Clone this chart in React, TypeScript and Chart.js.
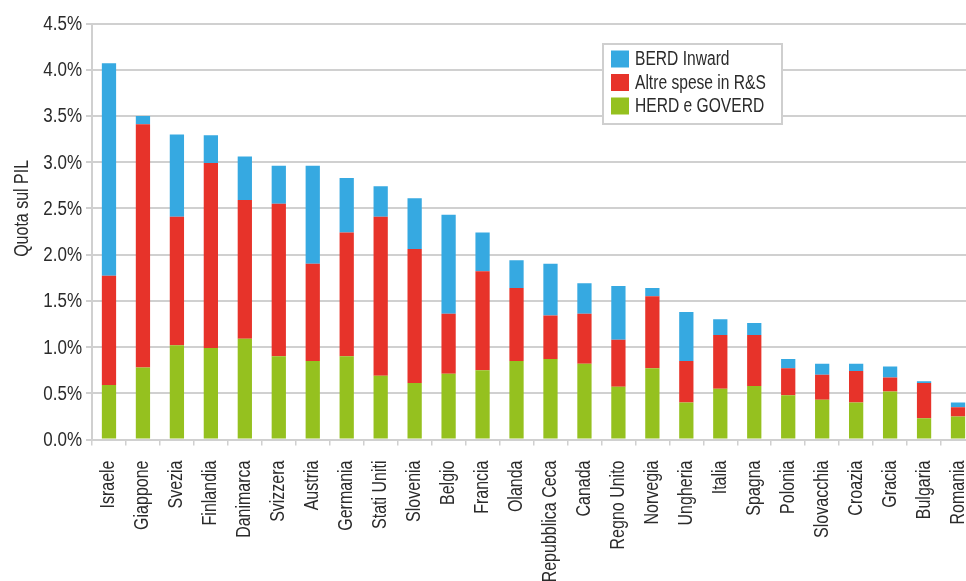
import React, { useEffect, useRef } from "react";
import { Chart, registerables } from "chart.js";

Chart.register(...registerables);

// Countries, ordered by total R&D spending as a share of GDP
const categories = [
  "Israele", "Giappone", "Svezia", "Finlandia", "Danimarca", "Svizzera", "Austria",
  "Germania", "Stati Uniti", "Slovenia", "Belgio", "Francia", "Olanda", "Repubblica Ceca",
  "Canada", "Regno Unito", "Norvegia", "Ungheria", "Italia", "Spagna", "Polonia",
  "Slovacchia", "Croazia", "Gracia", "Bulgaria", "Romania",
];

// Shares of GDP (%)
const herdGoverd = [
  0.59, 0.78, 1.02, 0.99, 1.09, 0.90, 0.85, 0.90, 0.69, 0.61, 0.71, 0.75, 0.85, 0.87,
  0.82, 0.57, 0.77, 0.40, 0.55, 0.58, 0.48, 0.43, 0.40, 0.52, 0.23, 0.25,
];
const altreSpese = [
  1.18, 2.63, 1.39, 2.00, 1.50, 1.65, 1.05, 1.34, 1.72, 1.45, 0.65, 1.07, 0.79, 0.47,
  0.54, 0.51, 0.78, 0.45, 0.58, 0.55, 0.29, 0.27, 0.34, 0.15, 0.38, 0.10,
];
const berdInward = [
  2.30, 0.09, 0.89, 0.30, 0.47, 0.41, 1.06, 0.59, 0.33, 0.55, 1.07, 0.42, 0.30, 0.56,
  0.33, 0.58, 0.09, 0.53, 0.17, 0.13, 0.10, 0.12, 0.08, 0.12, 0.02, 0.05,
];

const yTicks = [0, 0.5, 1, 1.5, 2, 2.5, 3, 3.5, 4, 4.5];
const yTitle = "Quota sul PIL";

const FONT = "'Liberation Sans', Arial, sans-serif";
const TEXT = "#2b2b2b";
const GRID = "#d0d0d0";

const fmtPct = (v: number) => `${v.toFixed(1)}%`;

// Condensed text: draws a sans-serif face squeezed horizontally along its baseline
function narrowText(
  ctx: CanvasRenderingContext2D,
  text: string,
  x: number,
  y: number,
  opts: { size: number; squeeze: number; align: CanvasTextAlign; rotate?: number }
) {
  ctx.save();
  ctx.translate(x, y);
  if (opts.rotate) ctx.rotate(opts.rotate);
  ctx.scale(opts.squeeze, 1);
  ctx.font = `${opts.size}px ${FONT}`;
  ctx.fillStyle = TEXT;
  ctx.textAlign = opts.align;
  ctx.textBaseline = "middle";
  ctx.fillText(text, 0, 0);
  ctx.restore();
}

// Axis labels and title in a condensed face
const axisText = {
  id: "axisText",
  afterDraw(chart: any) {
    const { ctx } = chart;
    const xScale = chart.scales.x;
    const yScale = chart.scales.y;
    // value labels, right-aligned just left of the tick marks
    yTicks.forEach((v) => {
      narrowText(ctx, fmtPct(v), yScale.right - 10, yScale.getPixelForValue(v) + 1, {
        size: 20,
        squeeze: 0.85,
        align: "right",
      });
    });
    // category labels, reading upward and hanging below the axis
    categories.forEach((c, i) => {
      narrowText(ctx, c, xScale.getPixelForValue(i), xScale.top + 21, {
        size: 20,
        squeeze: 0.8,
        align: "right",
        rotate: -Math.PI / 2,
      });
    });
    narrowText(ctx, yTitle, 22, yScale.getPixelForValue(2.5), {
      size: 20,
      squeeze: 0.8,
      align: "center",
      rotate: -Math.PI / 2,
    });
  },
};

// Boxed legend drawn inside the plot area, top item first
const boxLegend = {
  id: "boxLegend",
  afterDraw(chart: any) {
    const { ctx } = chart;
    const x = 603, y = 44, w = 179, h = 80;
    ctx.save();
    ctx.fillStyle = "#ffffff";
    ctx.fillRect(x, y, w, h);
    ctx.strokeStyle = "#cfcfcf";
    ctx.lineWidth = 2;
    ctx.strokeRect(x, y, w, h);
    ctx.restore();
    const items = [...chart.data.datasets].reverse();
    items.forEach((ds: any, i: number) => {
      const cy = y + 15 + i * 23.5;
      ctx.save();
      ctx.fillStyle = ds.backgroundColor;
      ctx.fillRect(x + 8, cy - 8.5, 18, 17);
      ctx.restore();
      narrowText(ctx, ds.label, x + 32, cy + 1, { size: 19.5, squeeze: 0.8, align: "left" });
    });
  },
};

export default function App() {
  const canvasRef = useRef<HTMLCanvasElement | null>(null);

  useEffect(() => {
    const canvas = canvasRef.current;
    if (!canvas) return;
    const chart = new Chart(canvas, {
      type: "bar",
      data: {
        labels: categories,
        datasets: [
          { label: "HERD e GOVERD", data: herdGoverd, backgroundColor: "#95c11f" },
          { label: "Altre spese in R&S", data: altreSpese, backgroundColor: "#e7332a" },
          { label: "BERD Inward", data: berdInward, backgroundColor: "#36a9e1" },
        ],
      },
      options: {
        responsive: false,
        animation: false,
        devicePixelRatio: 1,
        layout: { padding: { top: 23.5, left: 0, right: 0, bottom: 0 } },
        datasets: { bar: { categoryPercentage: 1, barPercentage: 0.42, borderWidth: 0 } },
        plugins: {
          legend: { display: false },
          tooltip: { enabled: false },
        },
        scales: {
          x: {
            stacked: true,
            grid: {
              offset: true,
              drawOnChartArea: false,
              drawTicks: true,
              tickLength: 6,
              color: GRID,
              lineWidth: 1.5,
            },
            border: { display: true, color: GRID, width: 2 },
            ticks: { display: false, autoSkip: false },
            afterFit(scale: any) {
              scale.height = 150.5;
            },
          },
          y: {
            stacked: true,
            min: 0,
            max: 4.5,
            afterBuildTicks(scale: any) {
              scale.ticks = yTicks.map((v) => ({ value: v }));
            },
            grid: { color: GRID, lineWidth: 2, tickLength: 6, drawTicks: true },
            border: { display: true, color: GRID, width: 2 },
            ticks: { display: false, callback: (v: any) => fmtPct(Number(v)) },
            afterFit(scale: any) {
              scale.width = 92;
            },
          },
        },
      },
      plugins: [axisText, boxLegend],
    });
    return () => chart.destroy();
  }, []);

  return (
    <div
      style={{
        position: "fixed",
        left: 0,
        top: 0,
        width: 966,
        height: 581,
        overflow: "hidden",
        background: "#ffffff",
      }}
    >
      <canvas ref={canvasRef} width={975} height={590} style={{ display: "block" }} />
    </div>
  );
}
